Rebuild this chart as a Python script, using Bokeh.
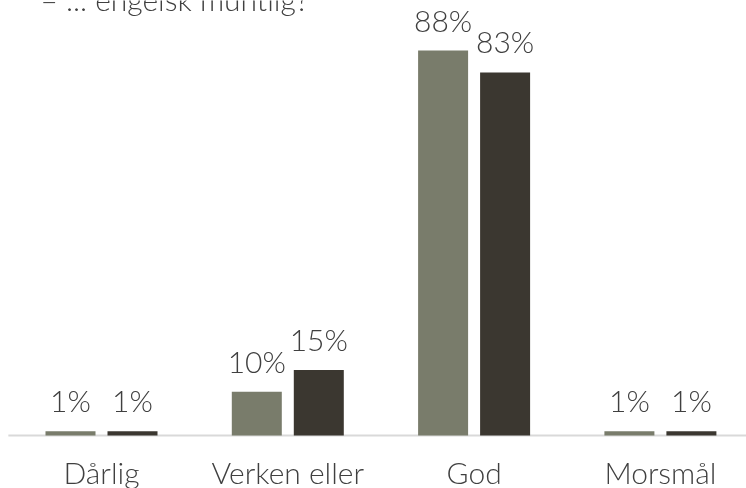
from bokeh.plotting import figure
from bokeh.models import ColumnDataSource, Label, Range1d
from bokeh.core.properties import value
from bokeh.embed import file_html
from bokeh.resources import INLINE

categories = ["Dårlig", "Verken eller", "God", "Morsmål"]
series_a = [1, 10, 88, 1]
series_b = [1, 15, 83, 1]
labels_a = ["1%", "10%", "88%", "1%"]
labels_b = ["1%", "15%", "83%", "1%"]
title_text = "– ... engelsk muntlig?"

FONT = "'Lato Light', Lato"
TXT = "#404040"
C_A = "#797c6b"
C_B = "#3b3730"

W, H = 746, 488
spacing = 186.3
first_center = 101.0
px_per_pct = 4.375
base_from_top = 435.0

x0 = -first_center / spacing
x1 = (W - first_center) / spacing
y1 = base_from_top / px_per_pct
y0 = -(H - base_from_top) / px_per_pct

p = figure(width=W, height=H, output_backend="svg", toolbar_location=None,
           x_range=Range1d(x0, x1), y_range=Range1d(y0, y1),
           x_axis_type=None, y_axis_type=None, min_border=0,
           outline_line_color=None, background_fill_color="white")
p.styles = {"position": "fixed", "top": "0px", "left": "0px"}
p.xgrid.visible = False
p.ygrid.visible = False

idx = list(range(len(categories)))
off = 31.0 / spacing
bw = 50.0 / spacing
src = ColumnDataSource(dict(
    xa=[i - off for i in idx], xb=[i + off for i in idx], xc=idx,
    a=series_a, b=series_b, la=labels_a, lb=labels_b, cat=categories,
))

# baseline
p.segment(x0=[-0.5], y0=[0], x1=[len(categories) - 0.5], y1=[0],
          line_color="#d9d9d9", line_width=2)

p.vbar(x="xa", top="a", bottom=0, width=bw, source=src, fill_color=C_A, line_color=None)
p.vbar(x="xb", top="b", bottom=0, width=bw, source=src, fill_color=C_B, line_color=None)

common = dict(text_font=value(FONT), text_font_size="30px", text_color=TXT,
              text_align="center", text_baseline="alphabetic")
p.text(x="xa", y="a", text="la", y_offset=-31, source=src, **common)
p.text(x="xb", y="b", text="lb", y_offset=-31, source=src, **common)
p.text(x="xc", y=0, text="cat", y_offset=36, source=src, **common)

p.add_layout(Label(x=40, y=H + 2, x_units="screen", y_units="screen",
                   text=title_text, text_font=FONT, text_font_size="30px",
                   text_color=TXT, text_baseline="alphabetic", text_align="left"))

open("out.html", "w").write(file_html(p, INLINE))
